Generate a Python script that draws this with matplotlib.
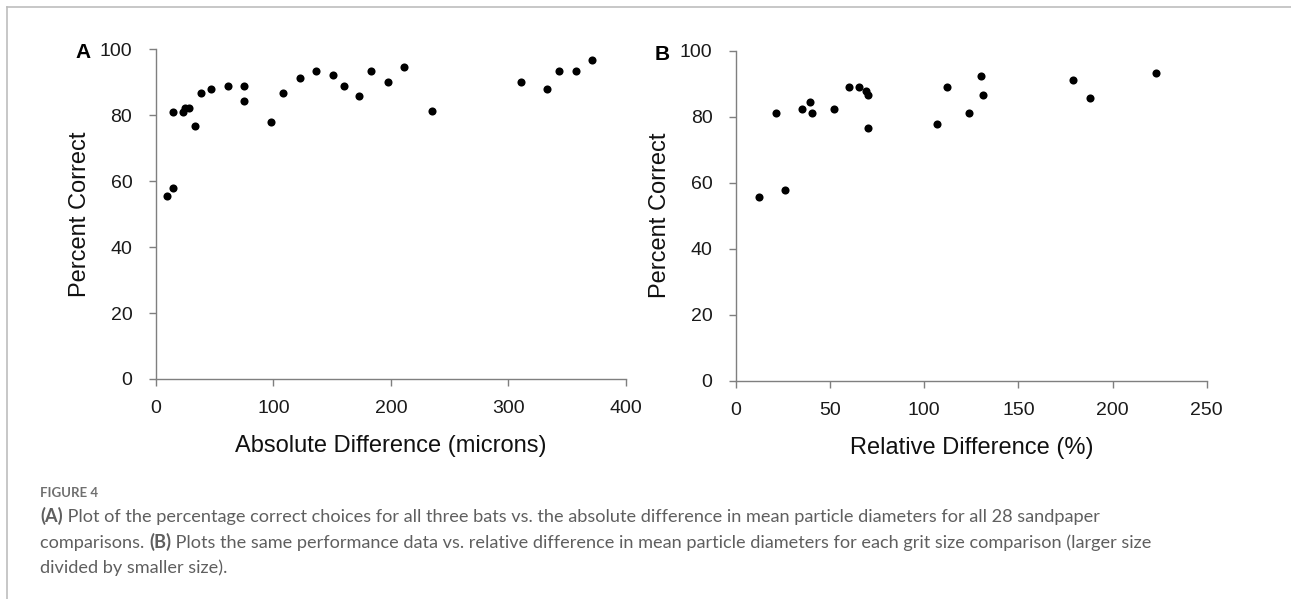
import matplotlib
matplotlib.use("Agg")
import matplotlib.pyplot as plt

# Panel A: absolute difference (microns) vs percent correct
abs_diff = [9.4, 14.2, 14.2, 22.7, 24.7, 28, 32.9, 38.3, 47.1, 61.3, 74.9, 74.9, 98.2, 107.8,
            122.3, 136.5, 150.4, 160.3, 173.3, 183.3, 197.2, 211, 235.2, 310.4, 333.3, 343.3,
            357.4, 371.6]
pct_a = [55.5, 57.9, 81.1, 81.1, 82.3, 82.3, 76.8, 86.8, 87.9, 89, 89, 84.4, 77.9, 86.8,
         91.2, 93.4, 92.3, 89, 85.7, 93.4, 90.1, 94.5, 81.2, 90.1, 87.9, 93.4, 93.4, 96.7]

# Panel B: relative difference (%) vs percent correct
rel_diff = [12.0, 21.1, 26.0, 35.1, 39.1, 40.2, 52.1, 60.2, 65.2, 69.1, 70.3, 70.1, 106.8,
            112, 124, 130, 131.1, 179.1, 188.1, 223.2]
pct_b = [55.6, 81.1, 57.8, 82.2, 84.5, 81.1, 82.2, 88.9, 88.9, 87.9, 86.7, 76.7, 77.8,
         88.9, 81.1, 92.2, 86.7, 91.1, 85.6, 93.3]

xticks_a = [0, 100, 200, 300, 400]
xticks_b = [0, 50, 100, 150, 200, 250]
yticks = [0, 20, 40, 60, 80, 100]

plt.rcParams['font.family'] = ['Liberation Sans', 'DejaVu Sans']

fig = plt.figure(figsize=(12.91, 5.99), dpi=100)

axA = fig.add_axes([0.1208, 0.3673, 0.3639, 0.5504])
axB = fig.add_axes([0.5701, 0.3644, 0.3646, 0.5510])

panels = [
    (axA, abs_diff, pct_a, xticks_a, 'Absolute Difference (microns)', 'A', 0.99),
    (axB, rel_diff, pct_b, xticks_b, 'Relative Difference (%)', 'B', 0.987),
]
for ax, x, y, xt, xlab, letter, ly in panels:
    ax.scatter(x, y, s=34, color='black', zorder=3, linewidths=0)
    ax.set_xlim(xt[0], xt[-1])
    ax.set_ylim(0, 100)
    ax.set_xticks(xt)
    ax.set_yticks(yticks)
    for side in ['top', 'right']:
        ax.spines[side].set_visible(False)
    for side in ['left', 'bottom']:
        ax.spines[side].set_color('#7f7f7f')
        ax.spines[side].set_linewidth(1.0)
    ax.tick_params(colors='#7f7f7f', labelcolor='#1a1a1a', labelsize=14,
                   length=5, width=1.0, direction='out')
    ax.tick_params(axis='x', pad=10)
    ax.tick_params(axis='y', pad=12)
    ax.set_xlabel(xlab, fontsize=17, color='#111111', labelpad=13)
    ax.set_ylabel('Percent Correct', fontsize=17, color='#111111', labelpad=6)
    ax.text(-0.172, ly, letter, transform=ax.transAxes, fontsize=15, fontweight='bold',
            ha='left', va='center')

# frame lines (top and left) of the figure box
fig.add_artist(plt.Line2D([7 / 1291, 1], [1 - 7 / 599, 1 - 7 / 599], color='#bdbdbd', lw=1.2))
fig.add_artist(plt.Line2D([7 / 1291, 7 / 1291], [0, 1 - 7 / 599], color='#bdbdbd', lw=1.2))

# caption
cap_font = ['Lato', 'DejaVu Sans']
fig.text(40 / 1291, 1 - 493 / 599, 'FIGURE 4', fontsize=9.5, color='#6f6f6f',
         family=cap_font, va='center', fontweight='bold')

lines = [
    [('(A)', 'bold'), (' Plot of the percentage correct choices for all three bats vs. the absolute '
                       'difference in mean particle diameters for all 28 sandpaper', 'normal')],
    [('comparisons. ', 'normal'), ('(B)', 'bold'),
     (' Plots the same performance data vs. relative difference in mean particle diameters '
      'for each grit size comparison (larger size', 'normal')],
    [('divided by smaller size).', 'normal')],
]
line_y = [522, 548, 573]  # baselines in pixels from top

renderer = fig.canvas.get_renderer()
for parts, yy in zip(lines, line_y):
    x_px = 40
    for txt, w in parts:
        t = fig.text(x_px / 1291, 1 - yy / 599, txt, fontsize=13.1, color='#5f5f5f',
                     family=cap_font, fontweight=w, va='baseline', ha='left')
        x_px += t.get_window_extent(renderer).width

fig.savefig('out.png', dpi=100)
